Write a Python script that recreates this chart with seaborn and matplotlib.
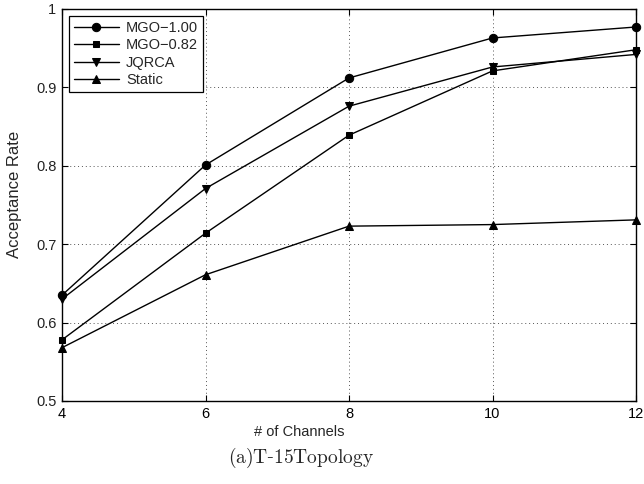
import pandas as pd
import matplotlib
matplotlib.use("Agg")
import matplotlib.pyplot as plt
import seaborn as sns

channels = [4, 6, 8, 10, 12]
mgo_100 = [0.635, 0.801, 0.912, 0.963, 0.977]
mgo_082 = [0.578, 0.714, 0.839, 0.921, 0.948]
jqrca = [0.630, 0.771, 0.876, 0.926, 0.942]
static = [0.568, 0.661, 0.723, 0.725, 0.731]

series = ["MGO\u22121.00", "MGO\u22120.82", "JQRCA", "Static"]
values = [mgo_100, mgo_082, jqrca, static]

df = pd.DataFrame(
    [(s, c, v) for s, vals in zip(series, values) for c, v in zip(channels, vals)],
    columns=["series", "channels", "rate"],
)

sns.set_style("ticks")
plt.rcParams["font.family"] = ["Liberation Sans", "DejaVu Sans"]
plt.rcParams["mathtext.fontset"] = "cm"

fig = plt.figure(figsize=(6.44, 4.84), dpi=100)
ax = fig.add_axes([0.0963, 0.1715, 0.8913, 0.81])

marker_map = {series[0]: "o", series[1]: "s", series[2]: "v", series[3]: "^"}
sns.lineplot(
    data=df, x="channels", y="rate", hue="series", style="series",
    markers=marker_map, dashes=False, palette=["black"] * 4,
    markersize=6, linewidth=1.0, markeredgecolor="black", ax=ax, legend=True,
)

# matlab-ish marker sizes, no clipping at the frame
msizes = {"o": 6.0, "s": 5.0, "v": 6.2, "^": 6.2}
for ln in ax.lines:
    ln.set_clip_on(False)
    m = ln.get_marker()
    if m in msizes:
        ln.set_markersize(msizes[m])

ax.set_xlim(4, 12)
ax.set_ylim(0.5, 1.0)
ax.set_xticks(channels)
ax.set_yticks([0.5, 0.6, 0.7, 0.8, 0.9, 1.0])
ax.set_yticklabels(["0.5", "0.6", "0.7", "0.8", "0.9", "1"])
ax.grid(True, linestyle=(0, (1, 3)), color="#555555", linewidth=0.7)
ax.tick_params(direction="in", top=True, right=True, labelsize=10.5, length=4,
               width=0.8, colors="black", pad=4)
ax.tick_params(axis="y", labelcolor="#222222")
for sp in ax.spines.values():
    sp.set_visible(True)
    sp.set_linewidth(1.0)
    sp.set_color("black")

ax.set_xlabel("# of Channels", fontsize=10.5)
ax.xaxis.set_label_coords(0.413, -0.06)
ax.set_ylabel("Acceptance Rate", fontsize=12)
ax.yaxis.set_label_coords(-0.07, 0.528)

handles, labels = ax.get_legend_handles_labels()
for h in handles:
    h.set_markersize(msizes.get(h.get_marker(), 6))
leg = ax.legend(handles, labels, loc="upper left", fontsize=10.5, frameon=True,
                fancybox=False, edgecolor="black", framealpha=1,
                borderaxespad=0.45, handlelength=3.1, handletextpad=0.5,
                labelspacing=0.24, borderpad=0.35)
leg.get_frame().set_linewidth(0.9)

fig.text(0.467, 0.054, r"$\mathrm{(a)T}$-$\mathrm{15Topology}$", ha="center",
         va="center", fontsize=14, family="DejaVu Serif")

fig.savefig("out.png", dpi=100)
